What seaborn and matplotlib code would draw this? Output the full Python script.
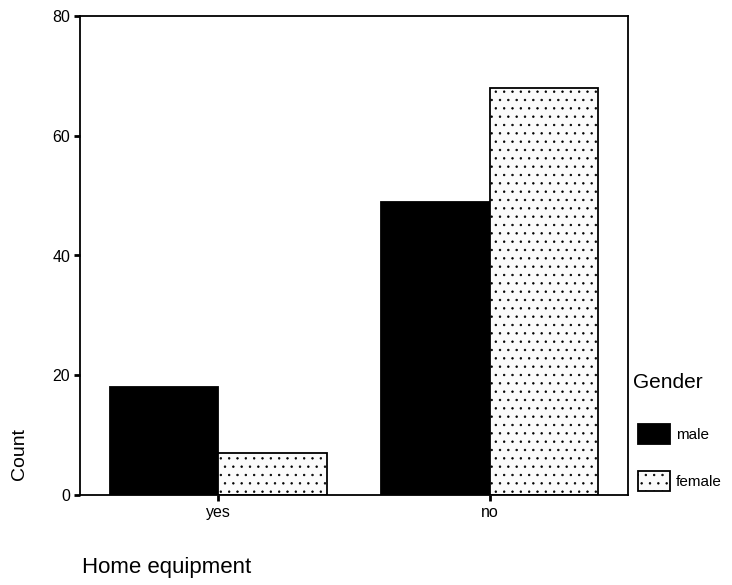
import matplotlib
matplotlib.use("Agg")
import matplotlib.pyplot as plt
import seaborn as sns
import pandas as pd

# 数据
equipment = ["yes", "no"]
genders = ["male", "female"]
male_counts = [18, 49]
female_counts = [7, 68]

df = pd.DataFrame({
    "Home equipment": equipment * 2,
    "Gender": ["male"] * len(equipment) + ["female"] * len(equipment),
    "Count": male_counts + female_counts,
})

sns.set_style("white")
plt.rcParams["font.family"] = ["Liberation Sans", "DejaVu Sans"]
plt.rcParams["text.color"] = "black"
plt.rcParams["axes.labelcolor"] = "black"
plt.rcParams["hatch.linewidth"] = 0.5
plt.rcParams["hatch.color"] = "#c4c4c4"

fig = plt.figure(figsize=(7.32, 5.85), dpi=100)
ax = fig.add_axes([80 / 732, 90 / 585, 548 / 732, 479 / 585])

sns.barplot(data=df, x="Home equipment", y="Count", hue="Gender",
            order=equipment, hue_order=genders,
            palette={"male": "black", "female": "#fbfbfb"},
            saturation=1, width=0.8, edgecolor="black", linewidth=1.3,
            errorbar=None, ax=ax)

# 女性柱子加点状纹理
n = len(equipment)
for p in ax.patches[n:2 * n]:
    p.set_hatch("..")

ax.set_ylim(0, 80)
ax.set_xlim(-0.51, 1.51)
ax.set_yticks([0, 20, 40, 60, 80])
for s in ax.spines.values():
    s.set_visible(True)
    s.set_color("black")
    s.set_linewidth(1.3)
ax.tick_params(axis="both", direction="out", length=4, width=2,
               color="black", labelsize=11.5, labelcolor="black", pad=3,
               left=True, bottom=True)

ax.set_xlabel("Home equipment", fontsize=16)
ax.xaxis.label.set_horizontalalignment("left")
ax.xaxis.label.set_verticalalignment("center")
ax.xaxis.set_label_coords(2 / 548, -0.152)
ax.set_ylabel("Count", fontsize=14)
ax.yaxis.label.set_verticalalignment("center")
ax.yaxis.label.set_horizontalalignment("center")
ax.yaxis.set_label_coords(-0.111, 0.085)

handles, labels = ax.get_legend_handles_labels()
ax.get_legend().remove()
handles[1].set_hatch("..")
fig.text(633 / 732, 1 - 383 / 585, "Gender", fontsize=15, va="center", ha="left")
fig.legend(handles, labels, loc="upper left",
           bbox_to_anchor=(638 / 732, 1 - 424 / 585), frameon=False,
           fontsize=11, borderpad=0, borderaxespad=0,
           handlelength=2.1, handleheight=1.65, handletextpad=0.4,
           labelspacing=1.75)

fig.savefig("out.png", dpi=100)
